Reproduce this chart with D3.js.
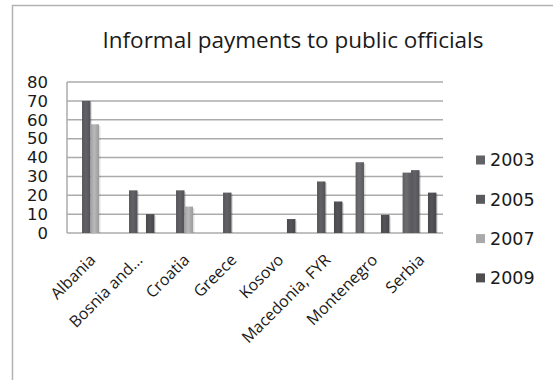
<!DOCTYPE html>
<html>
<head>
<meta charset="utf-8">
<script src="https://cdn.jsdelivr.net/npm/d3@7"></script>
<style>
  body { margin: 0; background: #fff; }
  svg text { fill: #1a1a1a; }
</style>
</head>
<body>
<div class="canvas"></div>
<script>
const width = 553;
const height = 380;

// data
const countries = ["Albania", "Bosnia and...", "Croatia", "Greece", "Kosovo", "Macedonia, FYR", "Montenegro", "Serbia"];
const years = ["2003", "2005", "2007", "2009"];
const v2003 = [null, null, null, null, null, null, 37.5, 32];
const v2005 = [70, 22.6, 22.6, 21.4, null, 27.3, null, 33.3];
const v2007 = [57.6, null, 14, null, null, null, null, null];
const v2009 = [null, 10, null, null, 7.4, 16.7, 9.6, 21.4];
const yTicks = [0, 10, 20, 30, 40, 50, 60, 70, 80];

const seriesValues = [v2003, v2005, v2007, v2009];
const colors = ["#636367", "#5a5a5e", "#a9a9ab", "#4e4e51"];

const svg = d3.select(".canvas")
  .append("svg")
  .attr("width", width)
  .attr("height", height);

// outer chart frame (only left and top visible)
svg.append("path")
  .attr("d", "M12.5,380 L12.5,5.5 L553,5.5")
  .attr("fill", "none")
  .attr("stroke", "#b3b3b3")
  .attr("stroke-width", 1.5);

// title
svg.append("text")
  .attr("x", 293)
  .attr("y", 48)
  .attr("text-anchor", "middle")
  .style("font-family", "'Open Sans', sans-serif")
  .style("font-size", "22.5px")
  .text("Informal payments to public officials");

const margin = { top: 82, left: 67, right: 110, bottom: 147 };
const graphWidth = 443 - margin.left;
const graphHeight = 233 - margin.top;

const graph = svg.append("g")
  .attr("transform", `translate(${margin.left}, ${margin.top})`);

const x0 = d3.scaleBand()
  .domain(countries)
  .range([0, graphWidth])
  .paddingInner(0.28)
  .paddingOuter(0.14);

const x1 = d3.scaleBand()
  .domain(years)
  .range([0, x0.bandwidth()]);

const y = d3.scaleLinear()
  .domain([0, 80])
  .range([graphHeight, 0]);

// gradients for the bars
const defs = svg.append("defs");
colors.forEach((c, i) => {
  const g = defs.append("linearGradient")
    .attr("id", "grad" + i)
    .attr("x1", "0").attr("x2", "1").attr("y1", "0").attr("y2", "0");
  g.append("stop").attr("offset", "0%").attr("stop-color", d3.color(c).darker(0.15));
  g.append("stop").attr("offset", "45%").attr("stop-color", d3.color(c).brighter(0.25));
  g.append("stop").attr("offset", "100%").attr("stop-color", d3.color(c).darker(0.25));
});

// gridlines
graph.append("g")
  .selectAll("line")
  .data(yTicks)
  .enter()
  .append("line")
  .attr("x1", 0)
  .attr("x2", graphWidth)
  .attr("y1", d => y(d))
  .attr("y2", d => y(d))
  .attr("stroke", "#ababab")
  .attr("stroke-width", 1.5);

graph.append("line")
  .attr("x1", 0).attr("x2", 0)
  .attr("y1", 0).attr("y2", graphHeight)
  .attr("stroke", "#ababab")
  .attr("stroke-width", 1.5);

// y axis labels
const yAxis = d3.axisLeft(y)
  .tickValues(yTicks)
  .tickSize(0)
  .tickPadding(19);

graph.append("g")
  .call(yAxis)
  .call(g => g.select(".domain").remove())
  .selectAll("text")
  .style("font-family", "'DejaVu Sans', sans-serif")
  .style("font-size", "16.5px")
  .attr("fill", "#333");

// x axis labels
const xAxis = d3.axisBottom(x0).tickSize(0).tickPadding(0);
graph.append("g")
  .attr("transform", `translate(0, ${graphHeight})`)
  .call(xAxis)
  .call(g => g.select(".domain").remove())
  .selectAll("text")
  .style("font-family", "'Open Sans', sans-serif")
  .style("font-size", "16px")
  .attr("fill", "#222")
  .attr("text-anchor", "end")
  .attr("dy", 0)
  .attr("transform", "translate(6, 28) rotate(-45)");

// bars
const bars = [];
seriesValues.forEach((vals, s) => {
  vals.forEach((v, i) => {
    if (v !== null) bars.push({ country: countries[i], year: years[s], s, value: v });
  });
});

const barGroup = graph.append("g");

// soft shadow
barGroup.selectAll("rect.shadow")
  .data(bars)
  .enter()
  .append("rect")
  .attr("class", "shadow")
  .attr("x", d => x0(d.country) + x1(d.year) + 1.5)
  .attr("y", d => y(d.value) + 1.5)
  .attr("width", x1.bandwidth())
  .attr("height", d => graphHeight - y(d.value) - 1.5)
  .attr("fill", "#000")
  .attr("opacity", 0.12);

barGroup.selectAll("rect.bar")
  .data(bars)
  .enter()
  .append("rect")
  .attr("class", "bar")
  .attr("x", d => x0(d.country) + x1(d.year))
  .attr("y", d => y(d.value))
  .attr("width", x1.bandwidth())
  .attr("height", d => graphHeight - y(d.value))
  .attr("fill", d => `url(#grad${d.s})`);

// legend
const legend = svg.append("g")
  .attr("transform", "translate(476, 160)");

const items = legend.selectAll("g")
  .data(years)
  .enter()
  .append("g")
  .attr("transform", (d, i) => `translate(0, ${i * 39.3})`);

items.append("rect")
  .attr("x", 0)
  .attr("y", -4.5)
  .attr("width", 9)
  .attr("height", 9)
  .attr("fill", (d, i) => colors[i]);

items.append("text")
  .attr("x", 14)
  .attr("y", 0)
  .attr("dy", "0.36em")
  .style("font-family", "'DejaVu Sans', sans-serif")
  .style("font-size", "17.5px")
  .attr("fill", "#333")
  .text(d => d);
</script>
</body>
</html>
